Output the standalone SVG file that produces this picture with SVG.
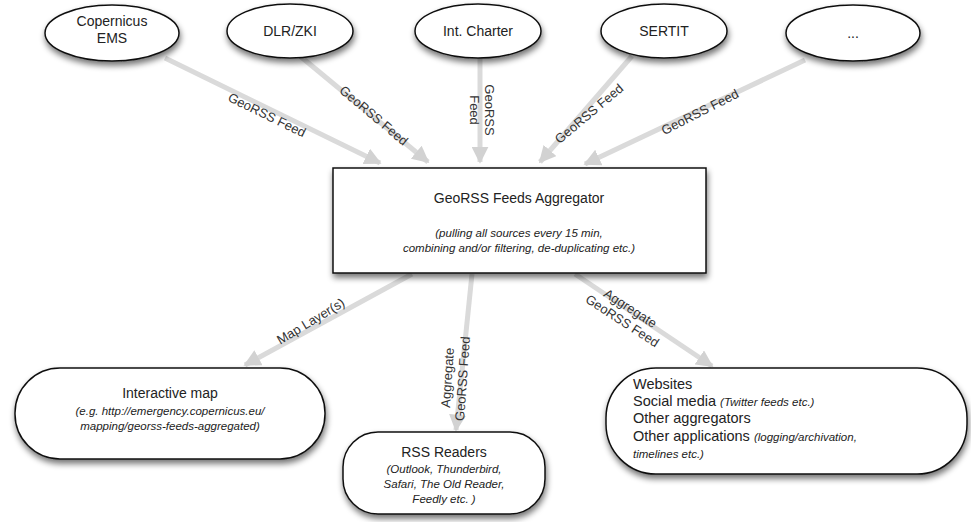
<svg xmlns="http://www.w3.org/2000/svg" width="971" height="522" viewBox="0 0 971 522">
<defs>
<filter id="sh" x="-20%" y="-30%" width="140%" height="170%">
<feGaussianBlur in="SourceAlpha" stdDeviation="3"/>
<feOffset dx="1" dy="4" result="b"/>
<feComponentTransfer><feFuncA type="linear" slope="0.55"/></feComponentTransfer>
<feMerge><feMergeNode/><feMergeNode in="SourceGraphic"/></feMerge>
</filter>
<marker id="ah" viewBox="0 0 10 10" refX="9" refY="5" markerWidth="3.4" markerHeight="3.4" orient="auto" markerUnits="strokeWidth">
<path d="M0,0 L10,5 L0,10 z" fill="#d2d2d2"/>
</marker>
<style>
.n{fill:#fff;stroke:#111;stroke-width:1.5;filter:url(#sh)}
.t{font-family:"Liberation Sans",Arial,sans-serif;font-size:14px;fill:#222}
.c{text-anchor:middle}
.i{font-family:"Liberation Sans",Arial,sans-serif;font-size:11.5px;font-style:italic;fill:#222}
.l{font-family:"Liberation Sans",Arial,sans-serif;font-size:13px;fill:#333;text-anchor:middle}
.e{fill:none;stroke:#dadada;stroke-width:5;marker-end:url(#ah)}
</style>
</defs>
<rect width="971" height="522" fill="#fff"/>
<g id="connectors">
<line class="e" x1="165" y1="58" x2="380" y2="163"/>
<line class="e" x1="300" y1="56" x2="428" y2="162"/>
<line class="e" x1="480" y1="57" x2="480" y2="162"/>
<line class="e" x1="632" y1="56" x2="540" y2="162"/>
<line class="e" x1="805" y1="60" x2="585" y2="164"/>
<line class="e" x1="412" y1="274" x2="245" y2="365"/>
<line class="e" x1="472" y1="274" x2="456" y2="430"/>
<line class="e" x1="575" y1="274" x2="712" y2="366"/>
<text class="l" transform="translate(265,119) rotate(26)">GeoRSS Feed</text>
<text class="l" transform="translate(371,119) rotate(40)">GeoRSS Feed</text>
<text class="l" transform="translate(485,110) rotate(90)"><tspan x="0" y="0">GeoRSS</tspan><tspan x="0" y="15">Feed</tspan></text>
<text class="l" transform="translate(592,117) rotate(-40)">GeoRSS Feed</text>
<text class="l" transform="translate(702,116) rotate(-27)">GeoRSS Feed</text>
<text class="l" transform="translate(313,325) rotate(-31)">Map Layer(s)</text>
<text class="l" transform="translate(452,378) rotate(-86)"><tspan x="0" y="0">Aggregate</tspan><tspan x="0" y="15">GeoRSS Feed</tspan></text>
<text class="l" transform="translate(628,312) rotate(33)"><tspan x="0" y="0">Aggregate</tspan><tspan x="0" y="15">GeoRSS Feed</tspan></text>
</g>
<g id="copernicus">
<ellipse class="n" cx="112" cy="33" rx="67" ry="28"/>
<text class="t c" x="112" y="26">Copernicus</text>
<text class="t c" x="112" y="43">EMS</text>
</g>
<g id="dlr">
<ellipse class="n" cx="290" cy="31" rx="63" ry="27"/>
<text class="t c" x="290" y="36">DLR/ZKI</text>
</g>
<g id="charter">
<ellipse class="n" cx="478" cy="31" rx="63" ry="27"/>
<text class="t c" x="478" y="36">Int. Charter</text>
</g>
<g id="sertit">
<ellipse class="n" cx="664" cy="31" rx="63" ry="27"/>
<text class="t c" x="664" y="36">SERTIT</text>
</g>
<g id="more">
<ellipse class="n" cx="853" cy="33" rx="67" ry="28"/>
<text class="t c" x="853" y="38">...</text>
</g>
<g id="aggregator">
<rect class="n" x="333" y="168" width="373" height="105"/>
<text class="t c" x="519" y="203">GeoRSS Feeds Aggregator</text>
<text class="i c" x="519" y="237">(pulling all sources every 15 min,</text>
<text class="i c" x="519" y="252">combining and/or filtering, de-duplicating etc.)</text>
</g>
<g id="map">
<rect class="n" x="15" y="368" width="310" height="91" rx="45" ry="45"/>
<text class="t c" x="170" y="398">Interactive map</text>
<text class="i c" x="170" y="415">(e.g. http://emergency.copernicus.eu/</text>
<text class="i c" x="170" y="430">mapping/georss-feeds-aggregated)</text>
</g>
<g id="rss">
<rect class="n" x="343" y="432" width="202" height="82" rx="35" ry="35"/>
<text class="t c" x="444" y="457">RSS Readers</text>
<text class="i c" x="444" y="473">(Outlook, Thunderbird,</text>
<text class="i c" x="444" y="488">Safari, The Old Reader,</text>
<text class="i c" x="444" y="503">Feedly etc. )</text>
</g>
<g id="websites">
<rect class="n" x="606" y="368" width="361" height="106" rx="50" ry="50"/>
<text class="t" x="633" y="389" style="font-size:14.5px">Websites</text>
<text class="t" x="633" y="406" style="font-size:14.5px">Social media <tspan class="i">(Twitter feeds etc.)</tspan></text>
<text class="t" x="633" y="423" style="font-size:14.5px">Other aggregators</text>
<text class="t" x="633" y="441" style="font-size:14.5px">Other applications <tspan class="i">(logging/archivation,</tspan></text>
<text class="i" x="633" y="458">timelines etc.)</text>
</g>
</svg>
